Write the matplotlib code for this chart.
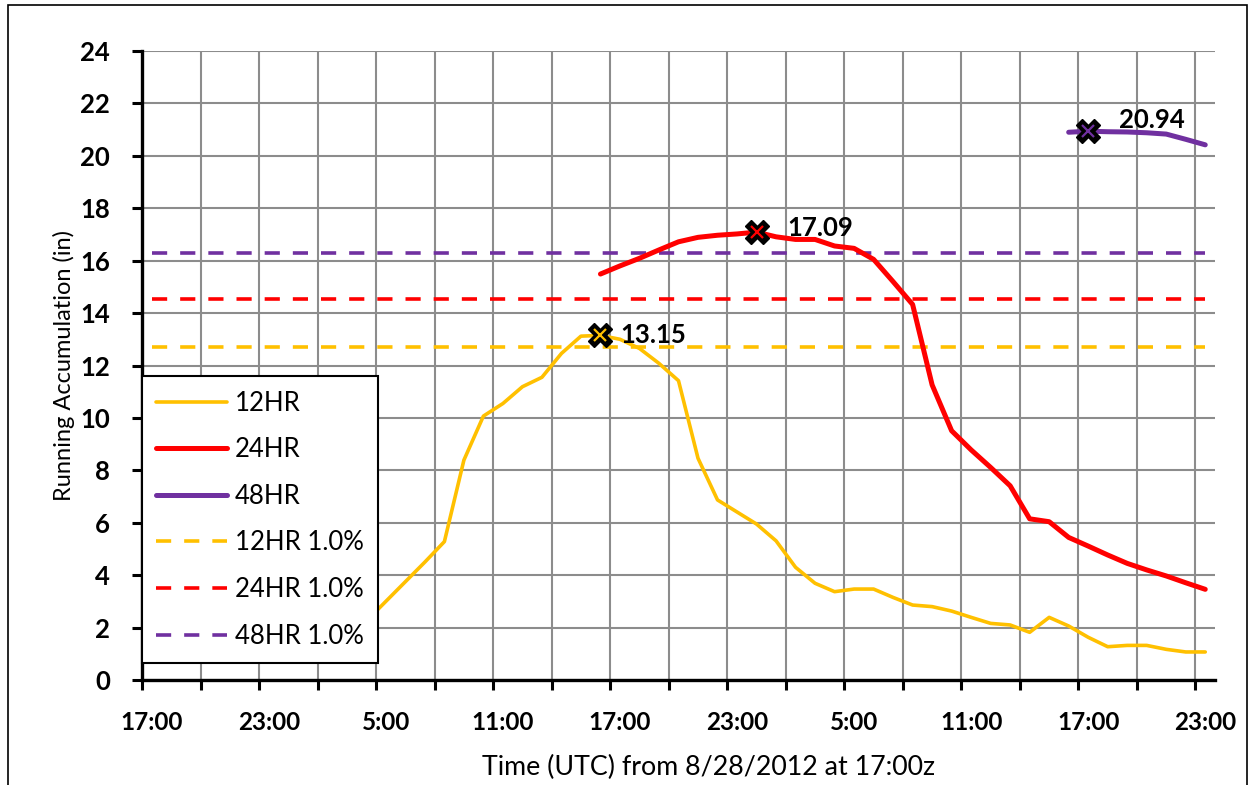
import numpy as np
import matplotlib
matplotlib.use('Agg')
import matplotlib.pyplot as plt
from matplotlib.patches import Rectangle

############## DATA ################
# hourly running accumulations (in), hour 0 = 17:00z 8/28/2012
nan = np.nan
acc_12hr = [nan] * 11 + [
    2.25, 3.00, 3.75, 4.50, 5.28, 8.39, 10.07, 10.55, 11.19, 11.55,
    12.46, 13.12, 13.15, 13.00, 12.65, 12.08, 11.42, 8.46, 6.87, 6.41,
    5.95, 5.31, 4.30, 3.69, 3.37, 3.47, 3.47, 3.15, 2.86, 2.80,
    2.63, 2.39, 2.16, 2.10, 1.82, 2.39, 2.06, 1.63, 1.27, 1.32,
    1.32, 1.17, 1.07, 1.07]
acc_24hr = [nan] * 23 + [
    15.49, 15.80, 16.09, 16.41, 16.72, 16.89, 16.97, 17.02, 17.09, 16.91,
    16.81, 16.81, 16.56, 16.47, 16.05, 15.20, 14.33, 11.26, 9.51, 8.78,
    8.11, 7.41, 6.15, 6.04, 5.44, 5.11, 4.77, 4.45, 4.20, 3.97,
    3.71, 3.46]
acc_48hr = [nan] * 47 + [20.90, 20.94, 20.92, 20.91, 20.88, 20.83, 20.63, 20.42]

# 1.0% thresholds
thresh_12hr = 12.70
thresh_24hr = 14.52
thresh_48hr = 16.30

tick_labels = ['17:00', '23:00', '5:00', '11:00', '17:00',
               '23:00', '5:00', '11:00', '17:00', '23:00']

series_names = ['12HR', '24HR', '48HR']
colors = ['#FFC000', '#FF0000', '#7030A0']

n = len(acc_12hr)
x = np.arange(n) + 0.5   # category centres

############## PLOT ################
fig = plt.figure(figsize=(12.55, 7.85), dpi=100)
ax = fig.add_axes([142/1255, 1 - 680/785, (1215-142)/1255, (680-51)/785])

# outer chart border
fig.patches.append(Rectangle((8/1255, -0.05), (1247-8)/1255, 1 - 5/785 + 0.05,
                             transform=fig.transFigure, fill=False,
                             edgecolor='black', linewidth=1.2))

widths = [2.6, 3.6, 3.6]
handles_solid = []
for vals, name, c, lw in zip([acc_12hr, acc_24hr, acc_48hr], series_names, colors, widths):
    vals = np.array(vals, dtype=float)
    h, = ax.plot(x, vals, color=c, lw=lw, label=name, zorder=3,
                 solid_capstyle='round', solid_joinstyle='round')
    handles_solid.append(h)

handles_dash = []
for t, name, c in zip([thresh_12hr, thresh_24hr, thresh_48hr], series_names, colors):
    h, = ax.plot(x, np.full(n, t), color=c, lw=2.6, dashes=(4.2, 3.6),
                 label=name + ' 1.0%', zorder=2)
    handles_dash.append(h)

# maxima markers + labels
offsets = [(14, 0), (22, 3), (22, 8)]
for vals, c, off in zip([acc_12hr, acc_24hr, acc_48hr], colors, offsets):
    vals = np.array(vals, dtype=float)
    k = np.nanargmax(vals)
    ax.plot(x[k], vals[k], marker='X', ms=17, color='black', mec='black', zorder=5)
    ax.plot(x[k], vals[k], marker='x', ms=9, mew=1.6, color=c, zorder=6)
    ax.annotate('%.2f' % vals[k], (x[k], vals[k]), xytext=off,
                textcoords='offset points', ha='left', va='center',
                fontsize=18.5, fontweight='bold', family='Lato', zorder=6)

ax.set_xlim(0, n)
ax.set_ylim(0, 24)
ax.set_yticks(np.arange(0, 25, 2))
ax.set_xticks(np.arange(0, n, 3))
ax.set_xticklabels([])
ax.set_xticks(np.arange(0, n, 6) + 0.5, minor=True)
ax.set_xticklabels(tick_labels, minor=True)

ax.grid(True, which='major', color='#8c8c8c', lw=1.5, zorder=0)
ax.set_axisbelow(True)
ax.tick_params(axis='both', which='major', direction='out', length=7, width=2.2)
ax.tick_params(axis='y', which='major', pad=16)
ax.tick_params(axis='x', which='minor', length=0, pad=22)
for lab in ax.get_yticklabels():
    lab.set_fontfamily('Lato')
    lab.set_fontweight('bold')
    lab.set_fontsize(18.5)
for lab in ax.get_xticklabels(minor=True):
    lab.set_fontfamily('Lato')
    lab.set_fontweight('bold')
    lab.set_fontsize(17.5)

for s in ['top', 'right']:
    ax.spines[s].set_visible(False)
for s in ['left', 'bottom']:
    ax.spines[s].set_linewidth(2.4)
    ax.spines[s].set_zorder(4)

ax.set_ylabel('Running Accumulation (in)', family='Lato', fontsize=17)
ax.yaxis.set_label_coords((75 - 142) / (1215 - 142), 0.5)
fig.text(708/1255, 1 - 767/785, 'Time (UTC) from 8/28/2012 at 17:00z',
         family='Lato', fontsize=19.3, ha='center', va='center')

leg = ax.legend(handles=handles_solid + handles_dash, loc='lower left',
                bbox_to_anchor=(0, 17/629), borderaxespad=0, frameon=True,
                fancybox=False, edgecolor='black', framealpha=1,
                prop={'family': 'Lato', 'size': 18.5},
                handlelength=2.75, handletextpad=0.3, labelspacing=0.84,
                borderpad=0.56)
leg.get_frame().set_linewidth(1.5)
leg.set_zorder(10)

plt.savefig('out.png', dpi=100)
